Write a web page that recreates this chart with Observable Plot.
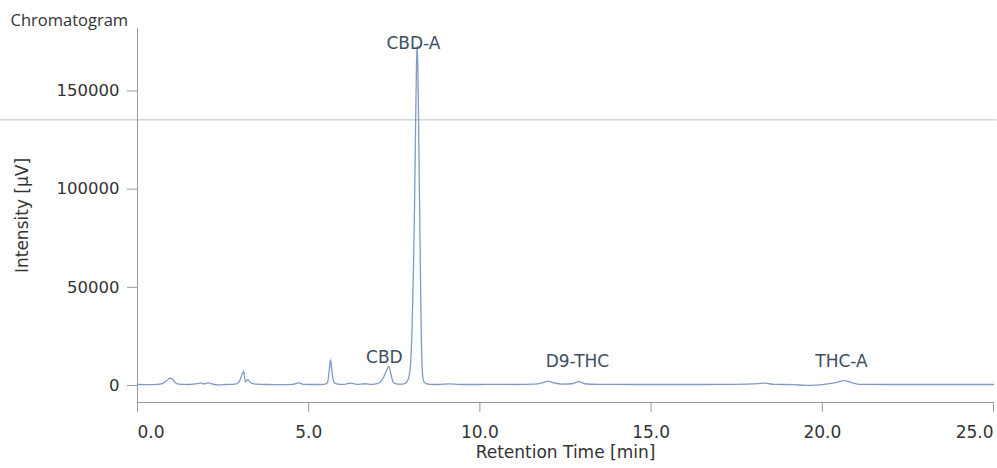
<!DOCTYPE html>
<html>
<head>
<meta charset="utf-8">
<script src="https://cdn.jsdelivr.net/npm/d3@7"></script>
<script src="https://cdn.jsdelivr.net/npm/@observablehq/plot@0.6"></script>
<style>
  body { margin: 0; background: #ffffff; }
  #chart { width: 997px; height: 468px; }
</style>
</head>
<body>
<div id="chart"></div>
<script>
// Retention time [min] and intensity [µV]
const times = [
  0.00, 0.30, 0.60, 0.72, 0.85, 0.95, 1.02, 1.10, 1.20, 1.50,
  1.75, 1.84, 1.95, 2.07, 2.20, 2.35, 2.60, 2.85, 2.97, 3.05,
  3.10, 3.15, 3.22, 3.30, 3.45, 3.80, 4.20, 4.55, 4.70, 4.85,
  5.20, 5.45, 5.55, 5.60, 5.64, 5.68, 5.74, 5.85, 6.05, 6.22,
  6.40, 6.65, 6.85, 7.00, 7.15, 7.27, 7.34, 7.40, 7.46, 7.55,
  7.65, 7.75, 7.85, 7.92, 7.98, 8.02, 8.06, 8.09, 8.12, 8.15,
  8.17, 8.19, 8.22, 8.25, 8.28, 8.31, 8.35, 8.42, 8.55, 8.80,
  9.10, 9.40, 10.0, 10.5, 11.0, 11.6, 11.85, 12.00, 12.15, 12.40,
  12.70, 12.90, 13.05, 13.50, 14.5, 15.5, 16.5, 17.5, 18.0, 18.3,
  18.6, 19.2, 19.5, 19.8, 20.1, 20.4, 20.65, 20.85, 21.1, 22.0,
  23.0, 24.0, 25.0
];
const intensities = [
  500, 450, 600, 900, 2500, 3700, 3300, 1500, 700, 500,
  900, 1300, 800, 1300, 700, 300, 500, 700, 2000, 5500,
  7300, 1800, 3000, 1500, 700, 500, 450, 600, 1300, 600,
  500, 600, 1500, 8000, 13200, 7000, 1500, 700, 600, 1200,
  600, 900, 600, 900, 3000, 7500, 9700, 6000, 2000, 800,
  700, 700, 1500, 4000, 12000, 30000, 60000, 90000, 130000, 165000,
  173000, 160000, 120000, 75000, 35000, 10000, 2500, 900, 600, 500,
  800, 500, 500, 600, 500, 700, 1500, 2200, 1400, 700,
  900, 2000, 900, 600, 500, 500, 500, 600, 800, 1200,
  600, 400, 100, 200, 700, 1500, 2500, 1500, 600, 500,
  500, 500, 500
];

// Peak annotations
const peakNames = ["CBD", "CBD-A", "D9-THC", "THC-A"];
const peakLabelTimes = [7.21, 8.06, 12.85, 20.56];
const peakLabelLevels = [11700, 171600, 9200, 9200];

// Axes
const xTicksMiddle = [5, 10, 15, 20];
const xTickFirst = [0];
const xTickLast = [25];
const yTicks = [0, 50000, 100000, 150000];
const xDomain = [0, 25];
const yDomain = [-8660, 181840];

// faint fold line visible across the scanned sheet
const foldLine = [{value: 135300, from: -4, to: 25.1}];

const trace = times.map((t, i) => ({t, v: intensities[i]}));
const peaks = peakNames.map((name, i) => ({name, t: peakLabelTimes[i], v: peakLabelLevels[i]}));

const FONT = "'DejaVu Sans', Verdana, sans-serif";
const axisCommon = {
  tickSize: 10,
  stroke: "#9a9a9a",
  fill: "#333333",
  fontSize: 17,
  label: null
};
const xAxisCommon = {...axisCommon, tickPadding: 13, tickFormat: d3.format(".1f")};

const plot = Plot.plot({
  width: 997,
  height: 468,
  marginLeft: 137,
  marginRight: 4,
  marginTop: 28,
  marginBottom: 66,
  style: {fontFamily: FONT, background: "#ffffff", color: "#333333", overflow: "visible"},
  x: {domain: xDomain},
  y: {domain: yDomain},
  marks: [
    Plot.ruleY(foldLine, {y: "value", x1: "from", x2: "to", stroke: "#8a8a8a", strokeOpacity: 0.55, strokeWidth: 1}),
    Plot.ruleX([xDomain[0]], {stroke: "#9a9a9a"}),
    Plot.ruleY([yDomain[0]], {stroke: "#9a9a9a"}),
    Plot.axisY({...axisCommon, ticks: yTicks, tickPadding: 8, tickFormat: d3.format("d"), fontSize: 16.5}),
    Plot.axisX({...xAxisCommon, ticks: xTicksMiddle}),
    Plot.axisX({...xAxisCommon, ticks: xTickFirst, textAnchor: "start"}),
    Plot.axisX({...xAxisCommon, ticks: xTickLast, textAnchor: "end"}),
    Plot.line(trace, {x: "t", y: "v", stroke: "#7f9bc6", strokeWidth: 1.3, curve: "monotone-x"}),
    Plot.text(peaks, {x: "t", y: "v", text: "name", lineAnchor: "bottom", fill: "#3b4e63", fontSize: 17}),
    Plot.text(["Intensity [μV]"], {frameAnchor: "left", textAnchor: "middle", rotate: -90, dx: -115, fill: "#333333", fontSize: 17}),
    Plot.text(["Retention Time [min]"], {frameAnchor: "bottom", textAnchor: "middle", lineAnchor: "bottom", dy: 55, fill: "#333333", fontSize: 17}),
    Plot.text(["Chromatogram"], {frameAnchor: "top-left", textAnchor: "start", lineAnchor: "bottom", dx: -127, dy: -3, fill: "#333333", fontSize: 16.5, fontFamily: "'Open Sans', 'Noto Sans', sans-serif"})
  ]
});
document.getElementById("chart").appendChild(plot);
</script>
</body>
</html>
